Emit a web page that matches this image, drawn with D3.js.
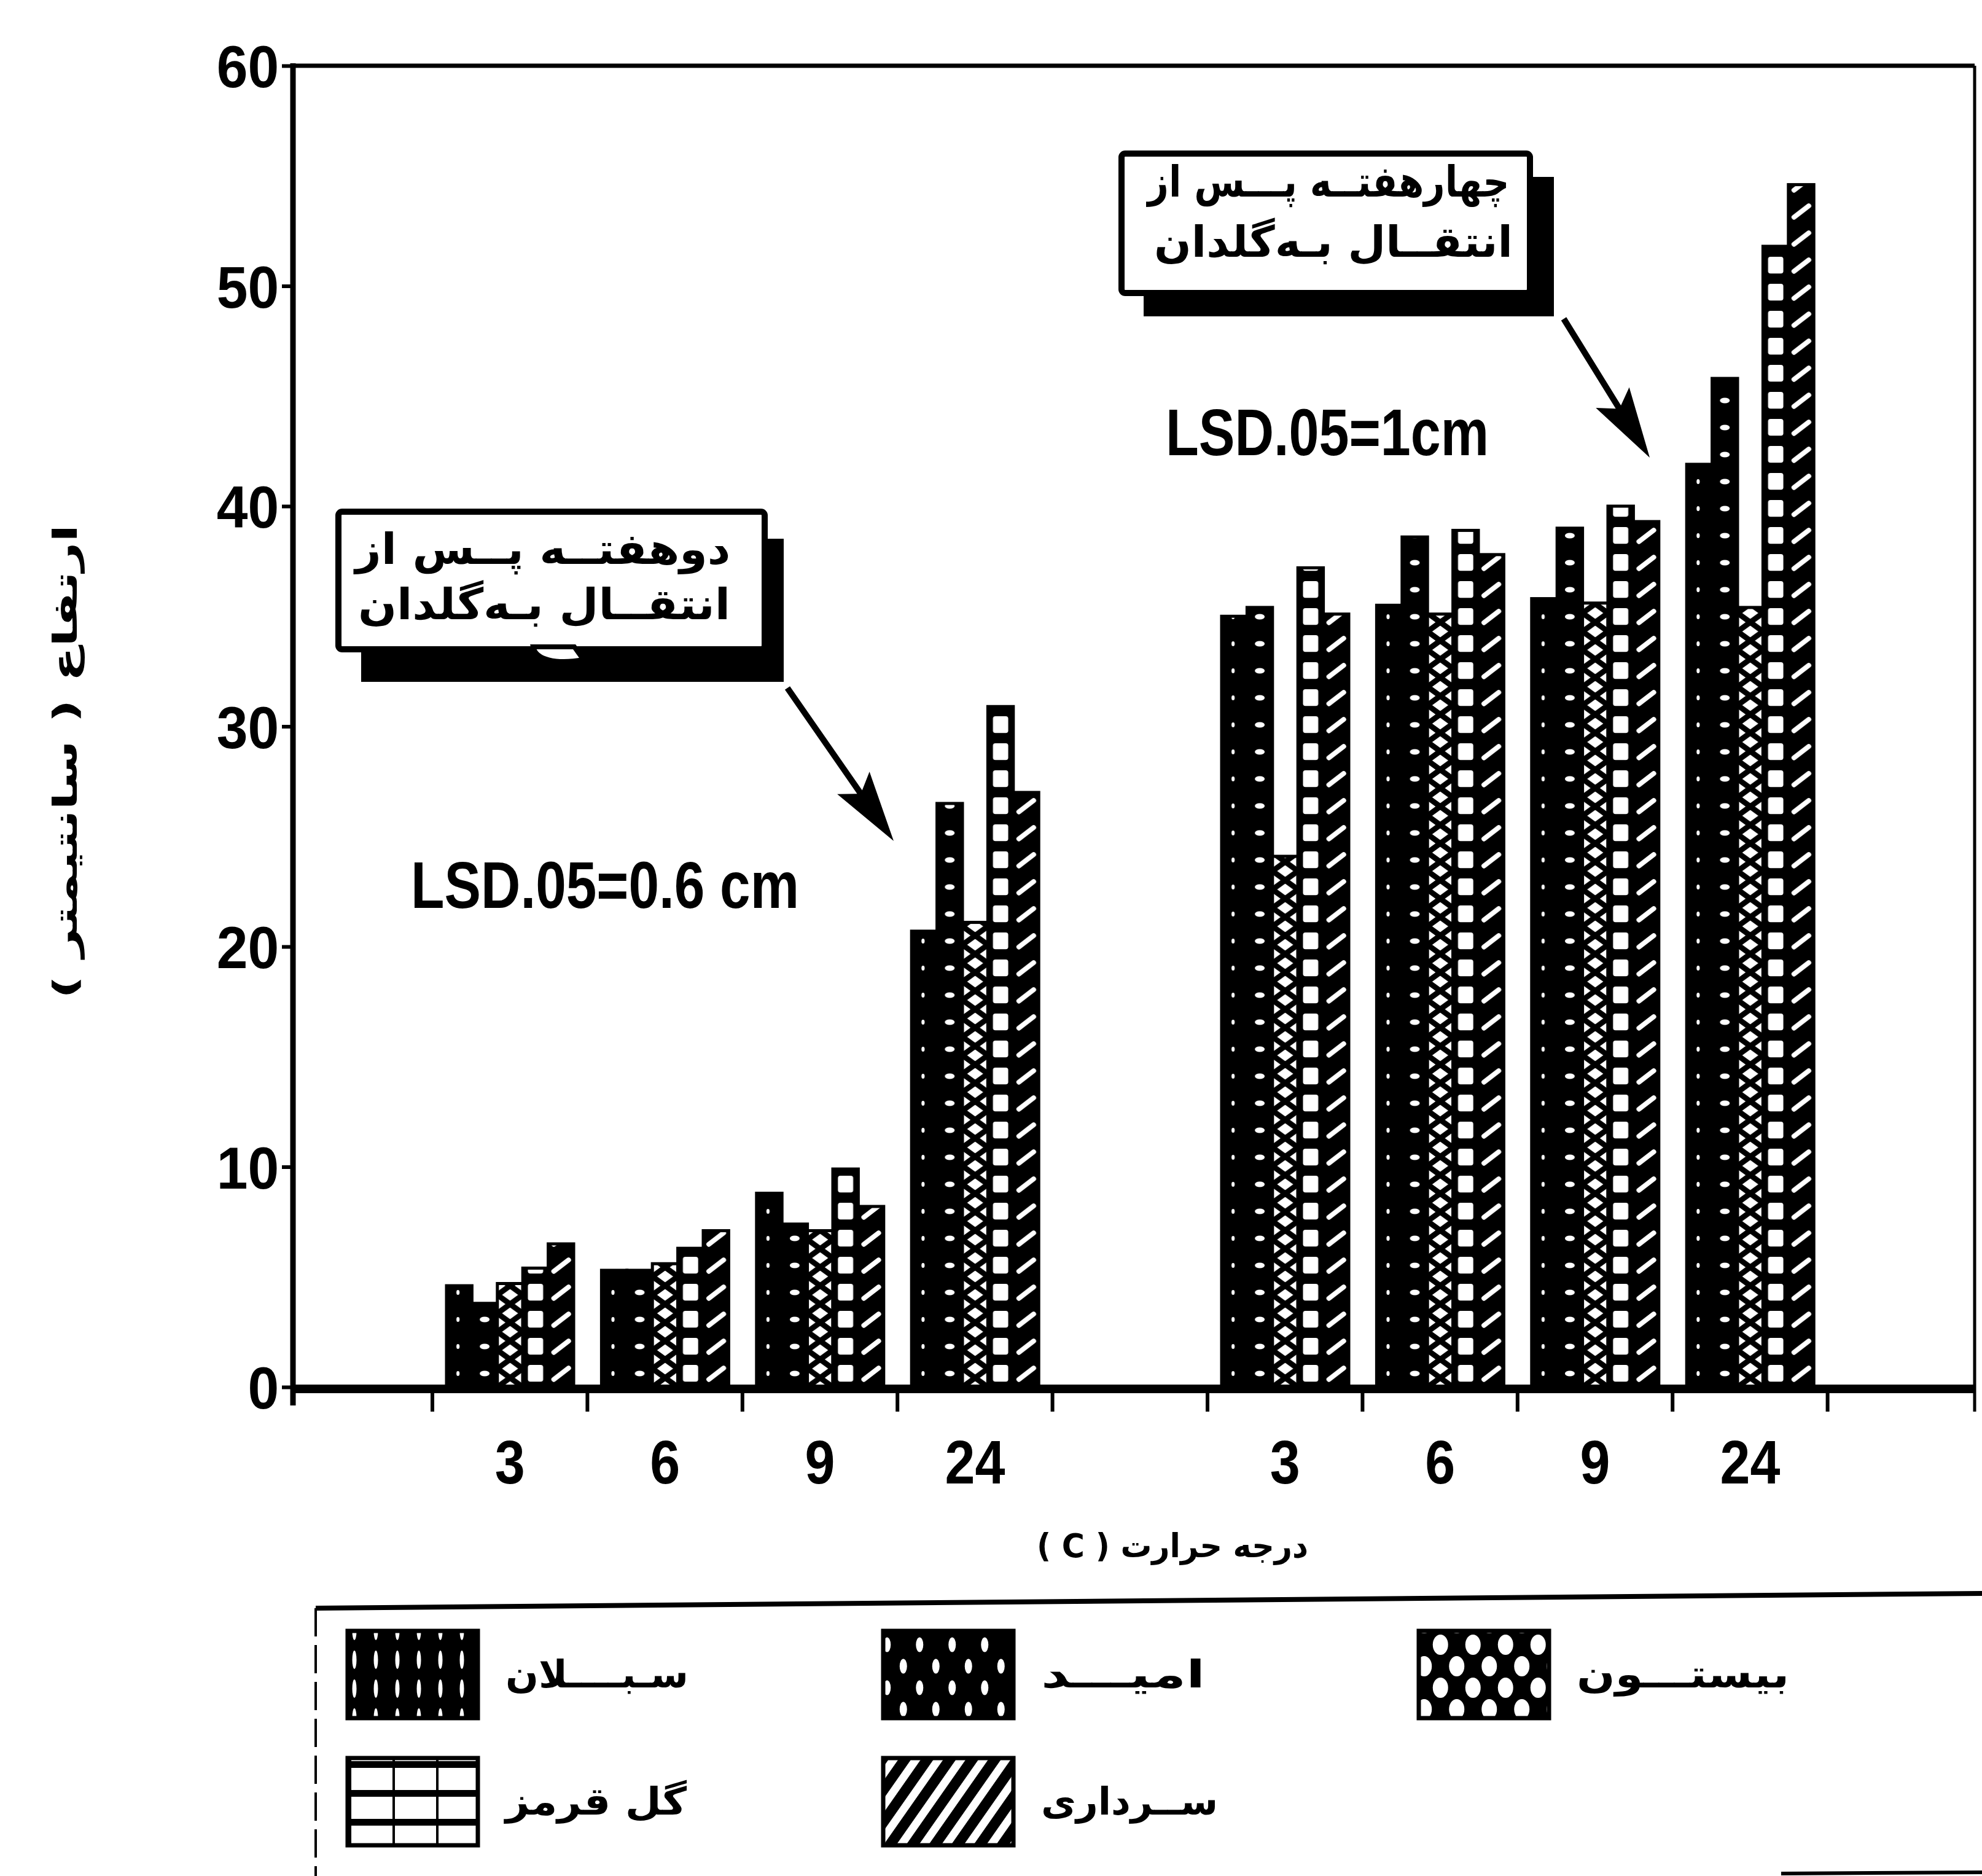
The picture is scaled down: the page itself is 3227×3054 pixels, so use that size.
<!DOCTYPE html>
<html>
<head>
<meta charset="utf-8">
<script src="https://cdn.jsdelivr.net/npm/d3@7"></script>
<style>
  html, body { margin: 0; padding: 0; background: #fff; }
  svg { display: block; }
</style>
</head>
<body>
<svg id="chart" width="3227" height="3054"></svg>
<script>
// ---- data -------------------------------------------------------------
// Growing temperature (°C); each sampling date uses the same four levels
const temperatures = ["3", "6", "9", "24"];
// Cultivars, in legend order
const cultivars = ["سبلان", "امید", "بیستون", "گل قرمز", "سرداری"];
const cultivarLabels = ["سـبــــلان", "امیـــد", "بیستـــون", "گل قرمز", "ســرداری"];
// Plant height (cm): one row per cultivar, one column per temperature
const heightTwoWeeks = [
  [4.6, 5.3, 8.8, 20.7],
  [3.8, 5.3, 7.4, 26.5],
  [4.7, 5.6, 7.1, 21.1],
  [5.4, 6.3, 9.9, 30.9],
  [6.5, 7.1, 8.2, 27.0]
];
const heightFourWeeks = [
  [35.0, 35.5, 35.8, 41.9],
  [35.4, 38.6, 39.0, 45.8],
  [24.1, 35.1, 35.6, 35.4],
  [37.2, 38.9, 40.0, 51.8],
  [35.1, 37.8, 39.3, 54.6]
];
const yTicks = [0, 10, 20, 30, 40, 50, 60];
// x slots: two blocks of temperatures separated by an empty slot
const xSlotLabels = ["3", "6", "9", "24", "", "3", "6", "9", "24", ""];
const groupSlots = [[0, 1, 2, 3], [5, 6, 7, 8]];
const calloutTwoWeeks = ["دوهفتــه پــس از", "انتقــال بـه‌گلدان"];
const calloutFourWeeks = ["چهارهفتــه پـــس از", "انتقــال بـه‌گلدان"];
const lsdTwoWeeks = "LSD.05=0.6 cm";
const lsdFourWeeks = "LSD.05=1cm";
const xTitle = "درجه حرارت ( C )";
const yTitle = "ارتفاع ( سانتیمتر )";

// ---- layout -----------------------------------------------------------
const LATIN = "'Liberation Sans', Arial, sans-serif";
const ARABIC = "'DejaVu Sans', 'Noto Sans', sans-serif";
const plot = { left: 477, top: 107, right: 3215, base: 2258 };

const svg = d3.select("#chart");
svg.append("rect").attr("width", 3227).attr("height", 3054).attr("fill", "#fff");
const defs = svg.append("defs");

const y = d3.scaleLinear().domain([0, 60]).range([plot.base, plot.top]);
const x = d3.scaleBand().domain(d3.range(xSlotLabels.length)).range([704, 3228]);
const xInner = d3.scaleBand().domain(d3.range(cultivars.length)).range([23, 230]);

// stretch a text element horizontally to a given width, centred on (cx, by)
function fitText(sel, cx, by, width, rotate) {
  sel.attr("x", 0).attr("y", 0).attr("text-anchor", "middle");
  const w = sel.node().getComputedTextLength();
  const k = width / w;
  sel.attr("transform",
    `translate(${cx},${by})` + (rotate ? ` rotate(${rotate})` : "") + ` scale(${k},1)`);
  return sel;
}

// ---- fill patterns ----------------------------------------------------
function barTile(p, kind, w, h) {
  if (kind === 2) {
    p.append("rect").attr("width", w).attr("height", h).attr("fill", "#fff");
    p.append("path").attr("d", `M0,0L${w},${h}M${w},0L0,${h}`)
      .attr("stroke", "#000").attr("stroke-width", 9);
    return;
  }
  p.append("rect").attr("width", w).attr("height", h).attr("fill", "#000");
  if (kind === 0) {
    p.append("ellipse").attr("cx", w * 0.45).attr("cy", h * 0.5).attr("rx", 2.6).attr("ry", 4).attr("fill", "#fff");
  } else if (kind === 1) {
    p.append("ellipse").attr("cx", w * 0.5).attr("cy", h * 0.5).attr("rx", 8).attr("ry", 4.5).attr("fill", "#fff");
  } else if (kind === 3) {
    p.append("rect").attr("x", w * 0.2).attr("y", h * 0.18).attr("width", w * 0.6).attr("height", h * 0.62)
      .attr("rx", 4).attr("fill", "#fff");
  } else if (kind === 4) {
    p.append("line").attr("x1", w * 0.22).attr("y1", h * 0.72).attr("x2", w * 0.8).attr("y2", h * 0.3)
      .attr("stroke", "#fff").attr("stroke-width", 8).attr("stroke-linecap", "round");
  }
}

function legendTile(kind) {
  const p = defs.append("pattern").attr("id", "legend-" + kind).attr("patternUnits", "userSpaceOnUse");
  if (kind === 0) {
    p.attr("width", 35).attr("height", 47);
    p.append("rect").attr("width", 35).attr("height", 47).attr("fill", "#000");
    p.append("ellipse").attr("cx", 17).attr("cy", 23).attr("rx", 3.5).attr("ry", 15).attr("fill", "#fff");
  } else if (kind === 1 || kind === 2) {
    const rx = kind === 1 ? 6 : 12.5, ry = kind === 1 ? 12 : 16.5;
    p.attr("width", 53).attr("height", 70);
    p.append("rect").attr("width", 53).attr("height", 70).attr("fill", "#000");
    [[13.25, 17.5], [39.75, 52.5]].forEach(([cx, cy]) =>
      p.append("ellipse").attr("cx", cx).attr("cy", cy).attr("rx", rx).attr("ry", ry).attr("fill", "#fff"));
  } else if (kind === 3) {
    p.attr("width", 71).attr("height", 47);
    p.append("rect").attr("width", 71).attr("height", 47).attr("fill", "#fff");
    p.append("rect").attr("width", 71).attr("height", 11).attr("fill", "#000");
    p.append("rect").attr("width", 4).attr("height", 47).attr("fill", "#000");
  } else {
    p.attr("width", 30).attr("height", 30).attr("patternTransform", "rotate(35)");
    p.append("rect").attr("width", 30).attr("height", 30).attr("fill", "#000");
    p.append("rect").attr("x", 8).attr("width", 13).attr("height", 30).attr("fill", "#fff");
  }
}
d3.range(cultivars.length).forEach(legendTile);

// ---- bars -------------------------------------------------------------
const bars = [];
[heightTwoWeeks, heightFourWeeks].forEach((table, g) => {
  table.forEach((row, s) => row.forEach((v, t) => {
    bars.push({ g, s, t, v, slot: groupSlots[g][t] });
  }));
});
bars.sort((a, b) => a.slot - b.slot || a.s - b.s);

const bw = xInner.bandwidth();
bars.forEach(d => {
  d.x = x(d.slot) + xInner(d.s);
  d.id = `bar-${d.g}-${d.t}-${d.s}`;
  const h = d.s === 2 ? 30 : 44;
  const p = defs.append("pattern").attr("id", d.id).attr("patternUnits", "userSpaceOnUse")
    .attr("x", d.x).attr("y", y(0)).attr("width", bw).attr("height", h);
  barTile(p, d.s, bw, h);
});

svg.append("g").attr("class", "bars")
  .selectAll("rect").data(bars).join("rect")
  .attr("x", d => d.x)
  .attr("y", d => y(d.v))
  .attr("width", bw)
  .attr("height", d => y(0) - y(d.v))
  .attr("fill", d => `url(#${d.id})`)
  .attr("stroke", "#000")
  .attr("stroke-width", 5);

// ---- frame and axes ---------------------------------------------------
const frame = svg.append("g").attr("stroke", "#000").attr("fill", "none");
frame.append("line").attr("x1", plot.left).attr("x2", plot.right).attr("y1", plot.top).attr("y2", plot.top).attr("stroke-width", 7);
frame.append("line").attr("x1", plot.right).attr("x2", plot.right).attr("y1", plot.top).attr("y2", plot.base + 40).attr("stroke-width", 5);
frame.append("line").attr("x1", plot.left).attr("x2", plot.left).attr("y1", plot.top - 4).attr("y2", plot.base + 30).attr("stroke-width", 9);
frame.append("line").attr("x1", plot.left).attr("x2", plot.right).attr("y1", plot.base + 3).attr("y2", plot.base + 3).attr("stroke-width", 14);

// tick marks at the slot boundaries
svg.append("g").selectAll("line").data(x.domain()).join("line")
  .attr("x1", d => x(d)).attr("x2", d => x(d))
  .attr("y1", plot.base).attr("y2", plot.base + 40)
  .attr("stroke", "#000").attr("stroke-width", 6);

const xAxis = svg.append("g")
  .attr("transform", `translate(0,${plot.base})`)
  .call(d3.axisBottom(x).tickSize(0).tickPadding(86).tickFormat(i => xSlotLabels[i]));
xAxis.select(".domain").remove();
xAxis.selectAll("text")
  .attr("font-family", LATIN).attr("font-weight", "bold").attr("font-size", 100)
  .attr("fill", "#000").attr("transform", "scale(0.88,1)");

const yAxis = svg.append("g")
  .attr("transform", `translate(${plot.left},0)`)
  .call(d3.axisLeft(y).tickValues(yTicks).tickSize(18).tickPadding(6));
yAxis.select(".domain").remove();
yAxis.selectAll(".tick line").attr("stroke", "#000").attr("stroke-width", 6);
yAxis.selectAll("text")
  .attr("font-family", LATIN).attr("font-weight", "bold").attr("font-size", 96)
  .attr("fill", "#000").attr("dy", "0.36em").attr("transform", "scale(0.95,1)");

// axis titles
fitText(svg.append("text").text(xTitle).attr("direction", "rtl")
  .attr("font-family", ARABIC).attr("font-weight", "bold").attr("font-size", 54),
  1909, 2535, 442);
fitText(svg.append("text").text(yTitle).attr("direction", "rtl")
  .attr("font-family", ARABIC).attr("font-weight", "bold").attr("font-size", 54),
  125, 1240, 772, -90);

// ---- callouts ---------------------------------------------------------
function callout(lines, box, shadow, rows, tail) {
  const g = svg.append("g");
  g.append("rect").attr("x", shadow[0]).attr("y", shadow[1]).attr("width", shadow[2]).attr("height", shadow[3]).attr("fill", "#000");
  g.append("rect").attr("x", box[0]).attr("y", box[1]).attr("width", box[2]).attr("height", box[3])
    .attr("rx", 6).attr("fill", "#fff").attr("stroke", "#000").attr("stroke-width", 10);
  if (tail) {
    g.append("path").attr("d", tail).attr("fill", "#fff").attr("stroke", "#000").attr("stroke-width", 8);
  }
  lines.forEach((txt, i) => {
    fitText(g.append("text").text(txt).attr("direction", "rtl")
      .attr("font-family", ARABIC).attr("font-weight", "bold").attr("font-size", 70).attr("fill", "#000"),
      rows[i][0], rows[i][1], rows[i][2]);
  });
}
callout(calloutTwoWeeks, [551, 833, 694, 224], [588, 877, 688, 233],
  [[884, 918, 611], [886, 1008, 606]],
  "M868,1053 C872,1074 905,1082 950,1074 L935,1053 Z");
callout(calloutFourWeeks, [1826, 250, 665, 227], [1862, 288, 668, 227],
  [[2163, 320, 589], [2171, 418, 584]]);

// arrows from the callouts towards the bars they describe
function arrow(x0, y0, x1, y1) {
  const dx = x1 - x0, dy = y1 - y0, L = Math.hypot(dx, dy);
  const ux = dx / L, uy = dy / L, nx = -uy, ny = ux;
  const headL = 115, headW = 32, shaft = 5, notch = 18;
  const bx = x1 - ux * headL, by = y1 - uy * headL;
  const nxp = bx + ux * notch, nyp = by + uy * notch;
  const pts = [
    [x0 + nx * shaft, y0 + ny * shaft],
    [nxp + nx * shaft, nyp + ny * shaft],
    [bx + nx * headW, by + ny * headW],
    [x1, y1],
    [bx - nx * headW, by - ny * headW],
    [nxp - nx * shaft, nyp - ny * shaft],
    [x0 - nx * shaft, y0 - ny * shaft]
  ];
  svg.append("path").attr("d", d3.line()(pts) + "Z").attr("fill", "#000");
}
arrow(1282, 1120, 1455, 1369);
arrow(2546, 519, 2686, 745);

// LSD annotations
fitText(svg.append("text").text(lsdTwoWeeks)
  .attr("font-family", LATIN).attr("font-weight", "bold").attr("font-size", 108).attr("fill", "#000"),
  985, 1478, 632);
fitText(svg.append("text").text(lsdFourWeeks)
  .attr("font-family", LATIN).attr("font-weight", "bold").attr("font-size", 108).attr("fill", "#000"),
  2161, 741, 526);

// ---- legend -----------------------------------------------------------
const legend = svg.append("g");
legend.append("line").attr("x1", 514).attr("y1", 2618).attr("x2", 3227).attr("y2", 2594)
  .attr("stroke", "#000").attr("stroke-width", 8);
legend.append("line").attr("x1", 514).attr("y1", 2618).attr("x2", 514).attr("y2", 3054)
  .attr("stroke", "#000").attr("stroke-width", 4).attr("stroke-dasharray", "46 14");
legend.append("line").attr("x1", 2900).attr("y1", 3050).attr("x2", 3227).attr("y2", 3048)
  .attr("stroke", "#000").attr("stroke-width", 6);

const legendTextWidth = [298, 267, 346, 295, 288];
cultivars.forEach((c, i) => {
  const col = i % 3, row = Math.floor(i / 3);
  const sx = 566 + col * 872, sy = 2655 + row * 207;
  legend.append("rect").attr("x", sx).attr("y", sy).attr("width", 212).attr("height", 142)
    .attr("fill", `url(#legend-${i})`).attr("stroke", "#000").attr("stroke-width", 7);
  const w = legendTextWidth[i];
  fitText(legend.append("text").text(cultivarLabels[i]).attr("direction", "rtl")
    .attr("font-family", ARABIC).attr("font-weight", "bold").attr("font-size", 62).attr("fill", "#000"),
    sx + 257 + w / 2, sy + 92, w);
});
</script>
</body>
</html>
